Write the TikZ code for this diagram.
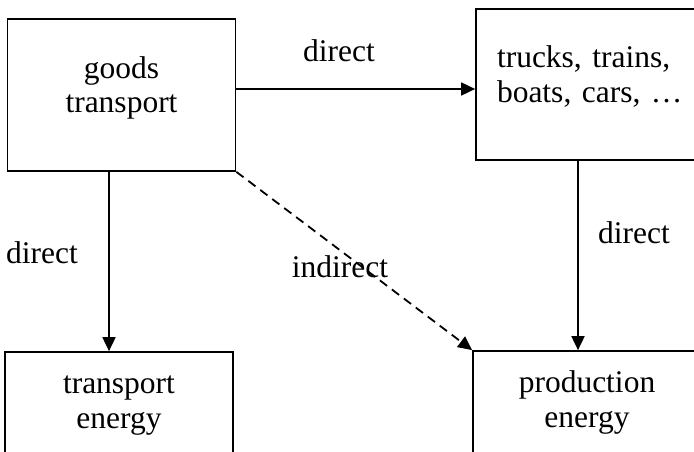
\documentclass[tikz,border=0pt]{standalone}
\usepackage{fontspec}
\setmainfont{Liberation Serif}
\usetikzlibrary{arrows.meta,positioning}

\tikzset{
  box/.style={draw,line width=1.7pt,minimum width=228pt,inner sep=0pt,
    text height=57pt,text depth=21pt},
  flow/.style={line width=1.8pt,-{Triangle[length=14pt,width=13pt]}},
}

\begin{document}
\begin{tikzpicture}[x=1pt,y=-1pt,font=\fontsize{31.5}{35}\selectfont]
\clip (0,0) rectangle (694,452);
% boxes
\node[box,minimum height=152pt,align=center] (goods) at (121.5,95) {goods\\transport};
\node[box,minimum height=151pt,text width=186pt,align=left,
  text height=22pt,text depth=55pt] (trucks) at (590,84.5) {trucks, trains,\\boats, cars, \dots};
\node[box,minimum height=116pt,align=center] (transp) at (119,410) {transport\\energy};
\node[box,minimum height=116pt,align=center] (prod) at (587,409) {production\\energy};

% connectors
\draw[flow] ([yshift=6pt]goods.east) -- ([yshift=6pt]goods.east -| trucks.west);
\draw[flow] ([xshift=-12.5pt]goods.south) -- ([xshift=-12.5pt]goods.south |- transp.north);
\draw[flow] ([xshift=-12pt]trucks.south) -- ([xshift=-12pt]trucks.south |- prod.north);
\draw[flow,dash pattern=on 9pt off 6pt] (goods.south east) -- (prod.north west);

% labels
\node[anchor=base] (dirtop) at (339,62) {direct};
\node[anchor=base] (dirleft) at (42,263) {direct};
\node[anchor=base] (dirright) at (634,243) {direct};
\node[anchor=base] (indir) at (340,277) {indirect};
\end{tikzpicture}
\end{document}
